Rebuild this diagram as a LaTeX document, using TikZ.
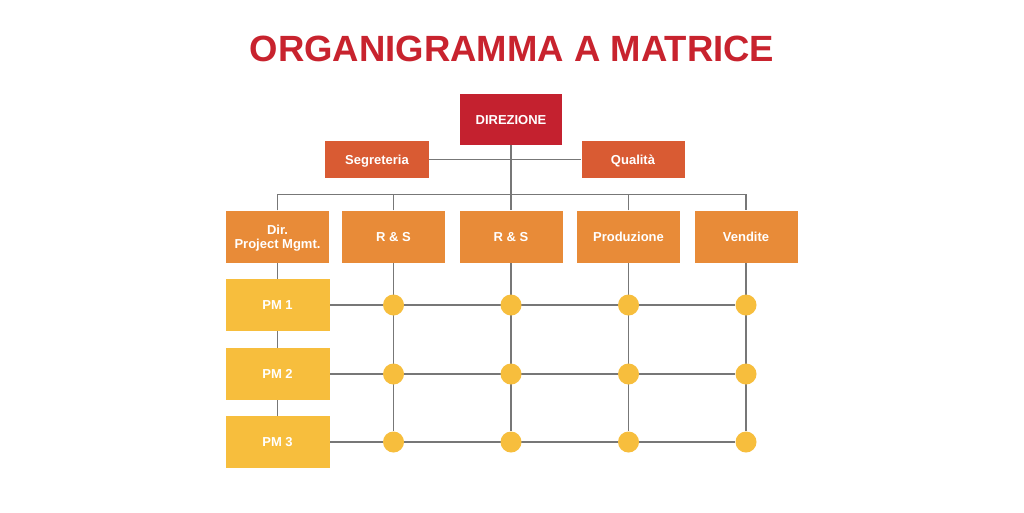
\documentclass[tikz,border=0pt]{standalone}
\usepackage{fontspec}
\setmainfont{Liberation Sans}
\usetikzlibrary{positioning, backgrounds}

\definecolor{titlered}{HTML}{C8232E}
\definecolor{dirred}{HTML}{C4212F}
\definecolor{staffor}{HTML}{D95B33}
\definecolor{deptor}{HTML}{E88B38}
\definecolor{pmyel}{HTML}{F7BE3D}
\definecolor{linegray}{HTML}{777777}

\begin{document}
\begin{tikzpicture}[x=1pt, y=-1pt,
	box/.style={inner sep=0pt, text=white, text height=9.3pt, text depth=0pt, font=\fontsize{13}{14}\selectfont\bfseries},
	deptbox/.style={box, fill=deptor, minimum width=103pt, minimum height=52pt},
	pmbox/.style={box, fill=pmyel, minimum width=104pt, minimum height=52pt},
	dot/.style={circle, fill=pmyel, inner sep=0pt, minimum size=21pt},
	link/.style={draw=linegray, line width=1.3pt}]
	\useasboundingbox (0,0) rectangle (1024,512);
	\node (title) [text=titlered, font=\fontsize{36.5}{40}\selectfont\bfseries] at (512,49) {ORGANIGRAMMA A MATRICE};
	\node (direz) [box, fill=dirred, minimum width=102pt, minimum height=51pt] at (511,119.5) {DIREZIONE};
	\node (segr) [box, fill=staffor, minimum width=104pt, minimum height=37pt] at (377,159.5) {Segreteria};
	\node (qual) [box, fill=staffor, minimum width=103pt, minimum height=37pt] at (633,159.5) {Qualità};
	\node (pmgmt) [deptbox, text height=23.3pt, align=center] at (277.5,236.5) {Dir.\\Project Mgmt.};
	\node (rs1) [deptbox] at (393.5,236.5) {R \& S};
	\node (rs2) [deptbox] at (511,236.5) {R \& S};
	\node (prod) [deptbox] at (628.5,236.5) {Produzione};
	\node (vend) [deptbox] at (746,236.5) {Vendite};
	\node (pm1) [pmbox] at (277.5,305) {PM 1};
	\node (pm2) [pmbox] at (277.5,374) {PM 2};
	\node (pm3) [pmbox] at (277.5,442) {PM 3};
	% incroci della matrice
	\foreach \r/\y in {1/305, 2/374, 3/442}
		\foreach \c/\x in {1/393.5, 2/511, 3/628.5, 4/746}
			\node (d\r\c) [dot] at (\x,\y) {};
	\begin{scope}[on background layer]
		\fill [white] (0,0) rectangle (1024,512);
		\draw [link] (segr) -- (qual);
		\draw [link] (direz) -- (rs2);
		\draw [link] (pmgmt.north) -- ++(0,-15.5) -| (vend.north);
		\draw [link] (rs1.north) -- ++(0,-15.5);
		\draw [link] (prod.north) -- ++(0,-15.5);
		\draw [link] (pmgmt) -- (pm1);
		\draw [link] (pm1) -- (pm2);
		\draw [link] (pm2) -- (pm3);
		\draw [link] (pm1) -- (d14);
		\draw [link] (pm2) -- (d24);
		\draw [link] (pm3) -- (d34);
		\draw [link] (rs1) -- (d31);
		\draw [link] (rs2) -- (d32);
		\draw [link] (prod) -- (d33);
		\draw [link] (vend) -- (d34);
	\end{scope}
\end{tikzpicture}
\end{document}
